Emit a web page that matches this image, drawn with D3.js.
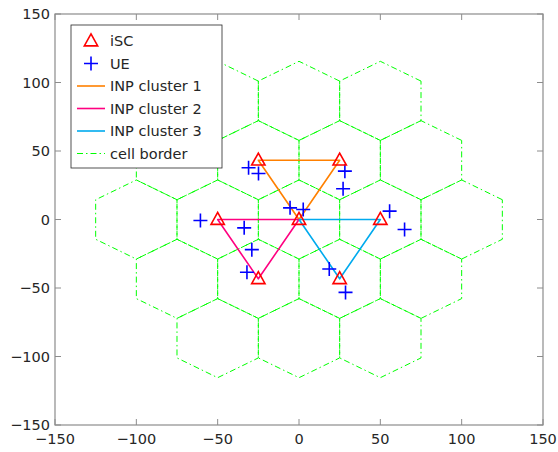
<!DOCTYPE html>
<html>
<head>
<meta charset="utf-8">
<script src="https://cdn.jsdelivr.net/npm/d3@7"></script>
<style>
  html, body { margin: 0; padding: 0; background: #fff; }
  svg { display: block; }
  text { font-family: "DejaVu Sans", sans-serif; }
</style>
</head>
<body>
<svg id="chart" width="558" height="452"></svg>
<script>
// Small-cell (iSC) placement with user equipment and INP clusters
const iscX = [-25, 25, 0, -50, -25, 50, 25];
const iscY = [43.3, 43.3, 0, 0, -43.3, 0, -43.3];

const ueX = [-31.0, -24.9, 28.2, 27.1, -5.5, 2.6, -60.6, -33.7, -29.0, -32.0, 55.7, 64.9, 18.6, 28.6];
const ueY = [37.8, 33.6, 35.3, 22.4, 8.5, 7.3, -0.7, -6.1, -22.0, -38.5, 6.1, -7.3, -36.1, -53.2];

const cluster1X = [0, -25, 25, 0];
const cluster1Y = [0, 43.3, 43.3, 0];
const cluster2X = [0, -50, -25, 0];
const cluster2Y = [0, 0, -43.3, 0];
const cluster3X = [0, 50, 25, 0];
const cluster3Y = [0, 0, -43.3, 0];

// Centres of the 19 hexagonal cells (inter-site distance 50)
const cellX = [-50, 0, 50, -75, -25, 25, 75, -100, -50, 0, 50, 100, -75, -25, 25, 75, -50, 0, 50];
const cellY = [86.6, 86.6, 86.6, 43.3, 43.3, 43.3, 43.3, 0, 0, 0, 0, 0, -43.3, -43.3, -43.3, -43.3, -86.6, -86.6, -86.6];
const cellRadius = 28.87;

const xTicks = [-150, -100, -50, 0, 50, 100, 150];
const yTicks = [-150, -100, -50, 0, 50, 100, 150];

const legendLabels = ["iSC", "UE", "INP cluster 1", "INP cluster 2", "INP cluster 3", "cell border"];

const colors = {
  isc: "#ff0000", ue: "#0000ff",
  c1: "#ff8000", c2: "#ff0080", c3: "#00aaee",
  border: "#00ff00", frame: "#8c8c8c", text: "#262626"
};

const plot = { left: 55, right: 543, top: 14, bottom: 425 };
const svg = d3.select("#chart");

const x = d3.scaleLinear().domain([-150, 150]).range([plot.left, plot.right]);
const y = d3.scaleLinear().domain([-150, 150]).range([plot.bottom, plot.top]);

const fmt = d => (d < 0 ? "\u2212" + Math.abs(d) : String(d));

// Hexagonal cell borders
const hexPath = (cx, cy) => {
  const pts = d3.range(7).map(i => {
    const a = Math.PI / 6 + i * Math.PI / 3;
    return [x(cx + cellRadius * Math.cos(a)), y(cy + cellRadius * Math.sin(a))];
  });
  return d3.line()(pts);
};

svg.append("clipPath").attr("id", "plotclip")
  .append("rect").attr("x", plot.left).attr("y", plot.top)
  .attr("width", plot.right - plot.left).attr("height", plot.bottom - plot.top);

const g = svg.append("g").attr("clip-path", "url(#plotclip)");

g.selectAll("path.cell").data(cellX.map((cx, i) => [cx, cellY[i]]))
  .enter().append("path").attr("class", "cell")
  .attr("d", d => hexPath(d[0], d[1]))
  .attr("fill", "none").attr("stroke", colors.border)
  .attr("stroke-width", 1).attr("stroke-dasharray", "6,3,1.5,3");

// Cluster outlines
const line = d3.line().x(d => x(d[0])).y(d => y(d[1]));
[[cluster1X, cluster1Y, colors.c1], [cluster2X, cluster2Y, colors.c2], [cluster3X, cluster3Y, colors.c3]]
  .forEach(([xs, ys, c]) => {
    g.append("path").attr("d", line(xs.map((v, i) => [v, ys[i]])))
      .attr("fill", "none").attr("stroke", c).attr("stroke-width", 1.6)
      .attr("stroke-linejoin", "round");
  });

// Markers
const triangle = (cx, cy, s) => `M${cx},${cy - s * 0.62}L${cx + s * 0.58},${cy + s * 0.42}L${cx - s * 0.58},${cy + s * 0.42}Z`;
const plus = (cx, cy, s) => `M${cx - s},${cy}H${cx + s}M${cx},${cy - s}V${cy + s}`;

g.selectAll("path.ue").data(ueX.map((v, i) => [v, ueY[i]]))
  .enter().append("path").attr("class", "ue")
  .attr("d", d => plus(x(d[0]), y(d[1]), 7))
  .attr("stroke", colors.ue).attr("stroke-width", 1.6).attr("fill", "none");

g.selectAll("path.isc").data(iscX.map((v, i) => [v, iscY[i]]))
  .enter().append("path").attr("class", "isc")
  .attr("d", d => triangle(x(d[0]), y(d[1]), 11.5))
  .attr("stroke", colors.isc).attr("stroke-width", 1.6).attr("fill", "none");

// Axes: box frame with inward ticks on every side
const axG = svg.append("g");
const tickLen = 6;
axG.append("rect").attr("x", plot.left).attr("y", plot.top)
  .attr("width", plot.right - plot.left).attr("height", plot.bottom - plot.top)
  .attr("fill", "none").attr("stroke", colors.frame).attr("stroke-width", 1.2);

xTicks.forEach(t => {
  const px = x(t);
  axG.append("line").attr("x1", px).attr("x2", px).attr("y1", plot.bottom).attr("y2", plot.bottom - tickLen)
    .attr("stroke", colors.frame);
  axG.append("line").attr("x1", px).attr("x2", px).attr("y1", plot.top).attr("y2", plot.top + tickLen)
    .attr("stroke", colors.frame);
  axG.append("text").attr("x", px).attr("y", plot.bottom + 19)
    .attr("text-anchor", "middle").attr("font-size", 14.5).attr("fill", colors.text).text(fmt(t));
});
yTicks.forEach(t => {
  const py = y(t);
  axG.append("line").attr("x1", plot.left).attr("x2", plot.left + tickLen).attr("y1", py).attr("y2", py)
    .attr("stroke", colors.frame);
  axG.append("line").attr("x1", plot.right).attr("x2", plot.right - tickLen).attr("y1", py).attr("y2", py)
    .attr("stroke", colors.frame);
  axG.append("text").attr("x", plot.left - 5).attr("y", py + 5)
    .attr("text-anchor", "end").attr("font-size", 14.5).attr("fill", colors.text).text(fmt(t));
});

// Legend
const lg = svg.append("g");
const lgBox = { x: 71, y: 25, w: 151, h: 143 };
lg.append("rect").attr("x", lgBox.x).attr("y", lgBox.y).attr("width", lgBox.w).attr("height", lgBox.h)
  .attr("fill", "#fff").attr("stroke", "#262626").attr("stroke-width", 0.8);

const lgStyles = [
  { kind: "tri", color: colors.isc },
  { kind: "plus", color: colors.ue },
  { kind: "line", color: colors.c1 },
  { kind: "line", color: colors.c2 },
  { kind: "line", color: colors.c3 },
  { kind: "dash", color: colors.border }
];
legendLabels.forEach((label, i) => {
  const cy = 41 + i * 22.5;
  const st = lgStyles[i];
  if (st.kind === "tri") {
    lg.append("path").attr("d", triangle(91, cy, 11.5)).attr("fill", "none")
      .attr("stroke", st.color).attr("stroke-width", 1.6);
  } else if (st.kind === "plus") {
    lg.append("path").attr("d", plus(91, cy, 7)).attr("fill", "none")
      .attr("stroke", st.color).attr("stroke-width", 1.6);
  } else {
    lg.append("line").attr("x1", 77).attr("x2", 105).attr("y1", cy).attr("y2", cy)
      .attr("stroke", st.color).attr("stroke-width", st.kind === "line" ? 1.6 : 1.2)
      .attr("stroke-dasharray", st.kind === "dash" ? "6,3,1.5,3" : null);
  }
  lg.append("text").attr("x", 110).attr("y", cy + 5).attr("font-size", 14.5)
    .attr("fill", colors.text).text(label);
});
</script>
</body>
</html>
